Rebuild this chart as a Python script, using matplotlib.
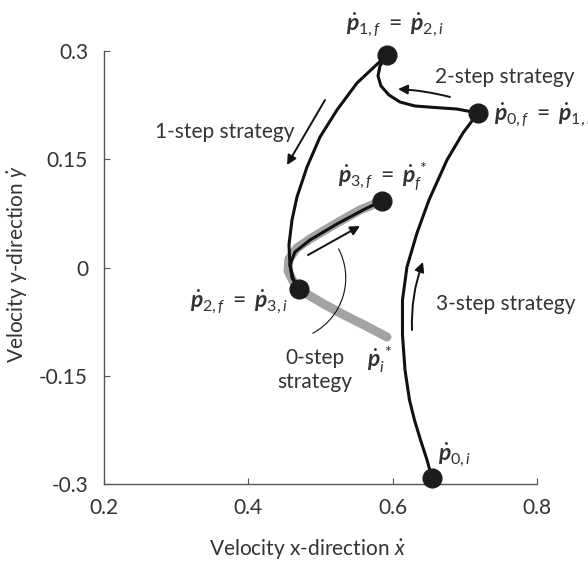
import matplotlib
matplotlib.use("Agg")
import matplotlib.pyplot as plt
from matplotlib.patches import Arc

plt.rcParams['font.family'] = ['Lato', 'DejaVu Sans']
plt.rcParams['mathtext.fontset'] = 'custom'
plt.rcParams['mathtext.rm'] = 'Lato'
plt.rcParams['mathtext.it'] = 'Lato:italic'
plt.rcParams['mathtext.bf'] = 'Lato:bold'
plt.rcParams['mathtext.bfit'] = 'Lato:bold:italic'

# velocity trajectories of each step (x-velocity, y-velocity)
step0_x = [0.6545, 0.6476, 0.6386, 0.6302, 0.6233, 0.6171, 0.6136, 0.6136, 0.6198, 0.6337, 0.6503, 0.6753, 0.6974, 0.7182]
step0_y = [-0.2917, -0.2667, -0.2390, -0.2113, -0.1836, -0.1420, -0.0935, -0.0450, 0.0007, 0.0478, 0.0935, 0.1490, 0.1864, 0.2141]

step1_x = [0.7182, 0.6891, 0.6586, 0.6309, 0.6101, 0.5949, 0.5838, 0.5797, 0.5824, 0.5921]
step1_y = [0.2141, 0.2196, 0.2217, 0.2238, 0.2293, 0.2390, 0.2515, 0.2654, 0.2792, 0.2945]

step2_x = [0.5921, 0.5506, 0.5228, 0.4993, 0.4813, 0.4674, 0.4605, 0.4563, 0.4577, 0.4605, 0.4702]
step2_y = [0.2945, 0.2557, 0.2182, 0.1808, 0.1393, 0.0977, 0.0658, 0.0312, 0.0035, -0.0145, -0.0298]

step3_x = [0.4702, 0.4619, 0.4577, 0.4646, 0.4854, 0.5228, 0.5616, 0.5852]
step3_y = [-0.0298, -0.0145, 0.0035, 0.0215, 0.0381, 0.0603, 0.0811, 0.0922]

# 0-step (capture) trajectory from p_i* to p_f*
capture_x = [0.5921, 0.5616, 0.5312, 0.5021, 0.4785, 0.4633, 0.4550, 0.4563, 0.4674, 0.4854, 0.5228, 0.5547, 0.5852]
capture_y = [-0.0963, -0.0803, -0.0651, -0.0492, -0.0353, -0.0215, -0.0048, 0.0118, 0.0270, 0.0395, 0.0617, 0.0797, 0.0922]

# switching points p_{0,i}, p_{0,f}, p_{1,f}, p_{2,f}, p_{3,f}
pts_x = [0.6545, 0.7182, 0.5921, 0.4702, 0.5852]
pts_y = [-0.2917, 0.2141, 0.2945, -0.0298, 0.0922]

xticks = [0.2, 0.4, 0.6, 0.8]
xtick_labels = ['0.2', '0.4', '0.6', '0.8']
yticks = [-0.3, -0.15, 0, 0.15, 0.3]
ytick_labels = ['-0.3', '-0.15', '0', '0.15', '0.3']

fig = plt.figure(figsize=(5.88, 5.63), dpi=100)
ax = fig.add_axes([104/588, 1 - 484/563, 433/588, 433/563])

ax.plot(capture_x, capture_y, color='#a3a3a3', lw=6.5, solid_capstyle='round', solid_joinstyle='round', zorder=1)
for xs, ys in [(step0_x, step0_y), (step1_x, step1_y), (step2_x, step2_y), (step3_x, step3_y)]:
    ax.plot(xs, ys, color='#111111', lw=2.2, solid_joinstyle='round', zorder=2)
ax.plot(pts_x, pts_y, 'o', color='#1c1c1c', ms=13.5, zorder=3, clip_on=False)

# direction arrows
arrow = dict(arrowstyle='-|>', color='#111111', lw=1.4, mutation_scale=14, shrinkA=0, shrinkB=0)
ax.annotate('', xy=(0.4536, 0.1420), xytext=(0.5062, 0.2321), arrowprops=arrow)
ax.annotate('', xy=(0.6074, 0.2473), xytext=(0.6794, 0.2363), arrowprops=dict(arrow, connectionstyle='arc3,rad=0.05'))
ax.annotate('', xy=(0.5547, 0.0575), xytext=(0.4827, 0.0173), arrowprops=arrow)
ax.annotate('', xy=(0.6420, 0.0076), xytext=(0.6268, -0.0866), arrowprops=dict(arrow, connectionstyle='arc3,rad=-0.1'))
ax.add_patch(Arc((0.448, -0.0145), 0.174, 0.174, theta1=-62, theta2=28, color='#111111', lw=0.8))

fs = 15
ms = 16.5
tc = '#333333'
ax.text(0.367, 0.1878, '1-step strategy', ha='center', va='center', fontsize=fs, color=tc)
ax.text(0.7556, 0.264, '2-step strategy', ha='center', va='center', fontsize=fs, color=tc)
ax.text(0.7563, -0.0506, '3-step strategy', ha='center', va='center', fontsize=fs, color=tc)
ax.text(0.4924, -0.142, '0-step\nstrategy', ha='center', va='center', fontsize=fs, color=tc, linespacing=1.25)

ax.text(0.6025, 0.336, r'$\dot{\mathbfit{p}}_{1,f}\;=\;\dot{\mathbfit{p}}_{2,i}$', ha='center', va='center', fontsize=ms, color=tc)
ax.text(0.7404, 0.2113, r'$\dot{\mathbfit{p}}_{0,f}\;=\;\dot{\mathbfit{p}}_{1,i}$', ha='left', va='center', fontsize=ms, color=tc)
ax.text(0.5859, 0.1254, r'$\dot{\mathbfit{p}}_{3,f}\;=\;\dot{\mathbfit{p}}_{f}^{\,*}$', ha='center', va='center', fontsize=ms, color=tc)
ax.text(0.455, -0.0478, r'$\dot{\mathbfit{p}}_{2,f}\;=\;\dot{\mathbfit{p}}_{3,i}$', ha='right', va='center', fontsize=ms, color=tc)
ax.text(0.5824, -0.128, r'$\dot{\mathbfit{p}}_{i}^{\,*}$', ha='center', va='center', fontsize=ms, color=tc)
ax.text(0.6628, -0.2598, r'$\dot{\mathbfit{p}}_{0,i}$', ha='left', va='center', fontsize=ms, color=tc)

ax.set_xlim(0.2, 0.8)
ax.set_ylim(-0.3, 0.3)
ax.set_xticks(xticks)
ax.set_xticklabels(xtick_labels)
ax.set_yticks(yticks)
ax.set_yticklabels(ytick_labels)
for s in ['top', 'right']:
    ax.spines[s].set_visible(False)
for s in ['left', 'bottom']:
    ax.spines[s].set_color('#555555')
    ax.spines[s].set_linewidth(1.0)
ax.tick_params(direction='in', length=4, color='#555555', labelcolor=tc, labelsize=fs)
ax.tick_params(axis='x', pad=10)
ax.tick_params(axis='y', pad=11.5)

fig.text(307/588, 1 - 550/563, r'Velocity x-direction $\dot{x}$', ha='center', va='center', fontsize=fs, color=tc)
fig.text(18/588, 1 - 264/563, r'Velocity y-direction $\dot{y}$', ha='center', va='center', rotation=90, fontsize=fs, color=tc)

fig.savefig('out.png', dpi=100)
